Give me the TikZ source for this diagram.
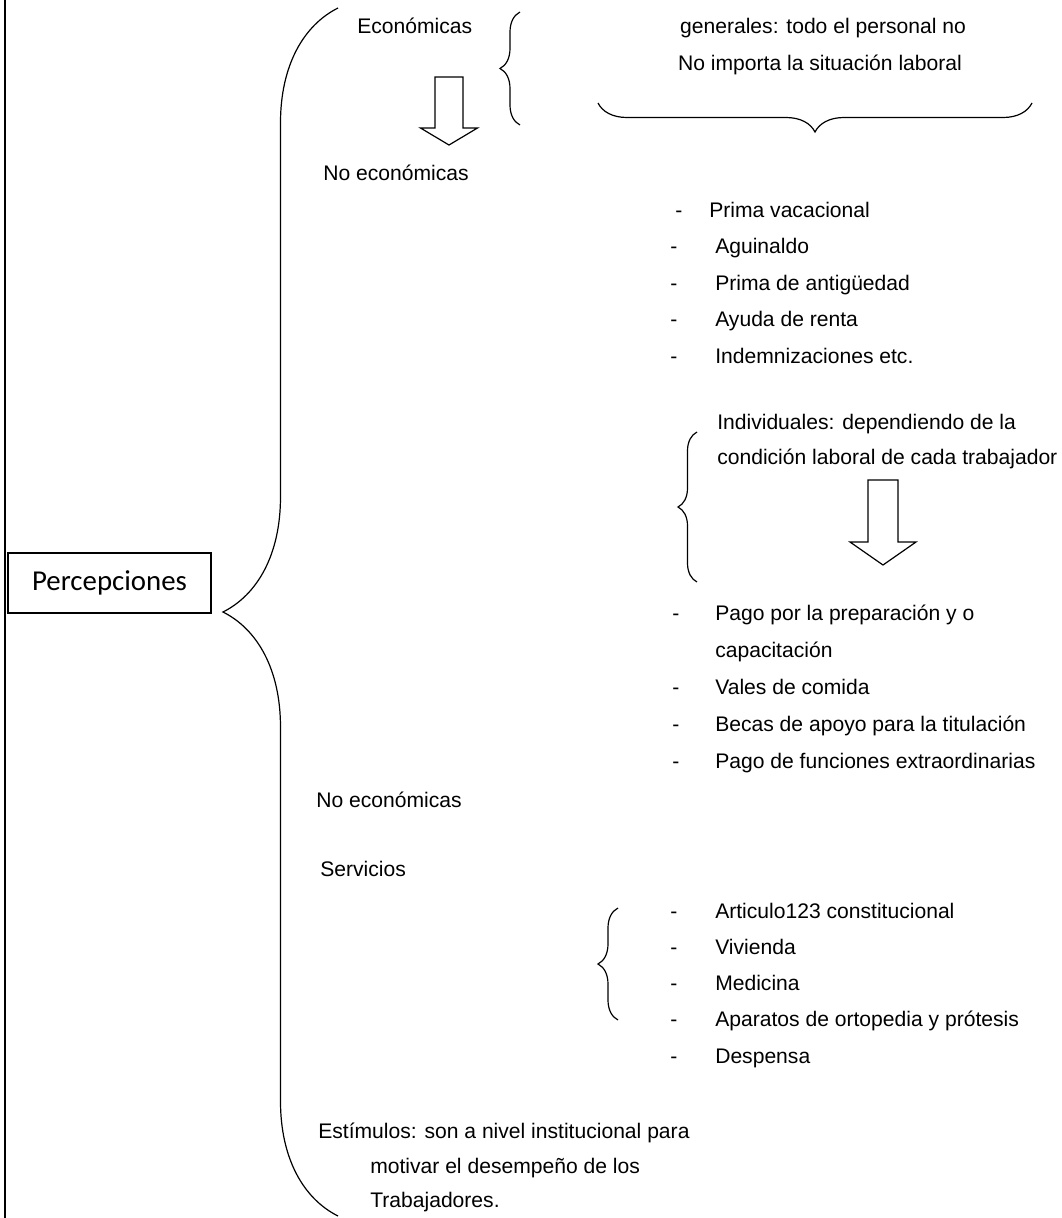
\documentclass[tikz,border=0pt]{standalone}
\usepackage{fontspec}
\setmainfont{Liberation Sans}
\newfontfamily\calibrifont{Carlito}
\usepackage{tikz}
\usetikzlibrary{positioning}
\usetikzlibrary{decorations.pathreplacing}
\newcommand{\blockarrow}[6]{
\draw[line width=0.85pt, fill=white]
  (#1-#5, #2) -- (#1+#5, #2) -- (#1+#5, #3) -- (#1+#6, #3)
  -- (#1, #4) -- (#1-#6, #3) -- (#1-#5, #3) -- cycle;
}
\def\rowstep{36.5}

\begin{document}
\begin{tikzpicture}[x=0.025cm, y=-0.025cm,
  txt/.style={font=\fontsize{15}{18}\selectfont, inner sep=0pt, anchor=base west},
  curly/.style={decorate, decoration={brace, amplitude=#1}, line width=0.85pt}]

\useasboundingbox (0,0) rectangle (1062,1218);

\draw[line width=1.5pt] (5,0) -- (5,1218);

\node[draw, line width=1.1pt, minimum width=5.075cm, minimum height=1.5cm,
  inner sep=0pt, font=\calibrifont\fontsize{20.5}{24}\selectfont]
  (percep) at (109.5,583) {Percepciones};

\draw[curly=2.875cm] (338,1216) -- (338,8);

\node[txt] (econ) at (357,33) {Económicas};
\draw[curly=0.5cm] (520,125) -- (520,12);
\blockarrow{449}{77}{128}{145}{14}{28.5}
\node[txt] (noecon) at (323,180) {No económicas};

\node[txt, anchor=base] (gen1) at (823,33) {generales: todo el personal no};
\node[txt, anchor=base] (gen2) at (820,70) {No importa la situación laboral};
\draw[curly=0.725cm] (1032,103) -- (598,103);

\foreach \d/\x/\lbl [count=\i] in {675/709/Prima vacacional, 670/715/Aguinaldo,
    670/715/Prima de antigüedad, 670/715/Ayuda de renta,
    670/715/Indemnizaciones etc.} {
  \node[txt] (guionA\i) at (\d, 217+\rowstep*\i-\rowstep) {-};
  \node[txt] (itemA\i) at (\x, 217+\rowstep*\i-\rowstep) {\lbl};
}

\node[txt] (indiv1) at (717,429) {Individuales: dependiendo de la};
\node[txt] (indiv2) at (717,464) {condición laboral de cada trabajador};
\draw[curly=0.475cm] (697,582) -- (697,432);
\blockarrow{883}{480}{542}{565}{15}{33}

\foreach \n/\lbl in {0/Pago por la preparación y o, 2/Vales de comida,
    3/Becas de apoyo para la titulación, 4/Pago de funciones extraordinarias} {
  \node[txt] (guionB\n) at (672, 620+37*\n) {-};
  \node[txt] (itemB\n) at (715, 620+37*\n) {\lbl};
}
\node[txt] (itemB1) at (715,657) {capacitación};

\node[txt] (noecon2) at (316,807) {No económicas};
\node[txt] (serv) at (320,876) {Servicios};

\draw[curly=0.5cm] (618,1020) -- (618,908);
\foreach \lbl [count=\i] in {Articulo123 constitucional, Vivienda, Medicina,
    Aparatos de ortopedia y prótesis, Despensa} {
  \node[txt] (guionC\i) at (670, 918+36.3*\i-36.3) {-};
  \node[txt] (itemC\i) at (715, 918+36.3*\i-36.3) {\lbl};
}

\node[txt] (estim1) at (318,1138) {Estímulos: son a nivel institucional para};
\node[txt] (estim2) at (370,1173) {motivar el desempeño de los};
\node[txt] (estim3) at (370,1207) {Trabajadores.};
\end{tikzpicture}
\end{document}
